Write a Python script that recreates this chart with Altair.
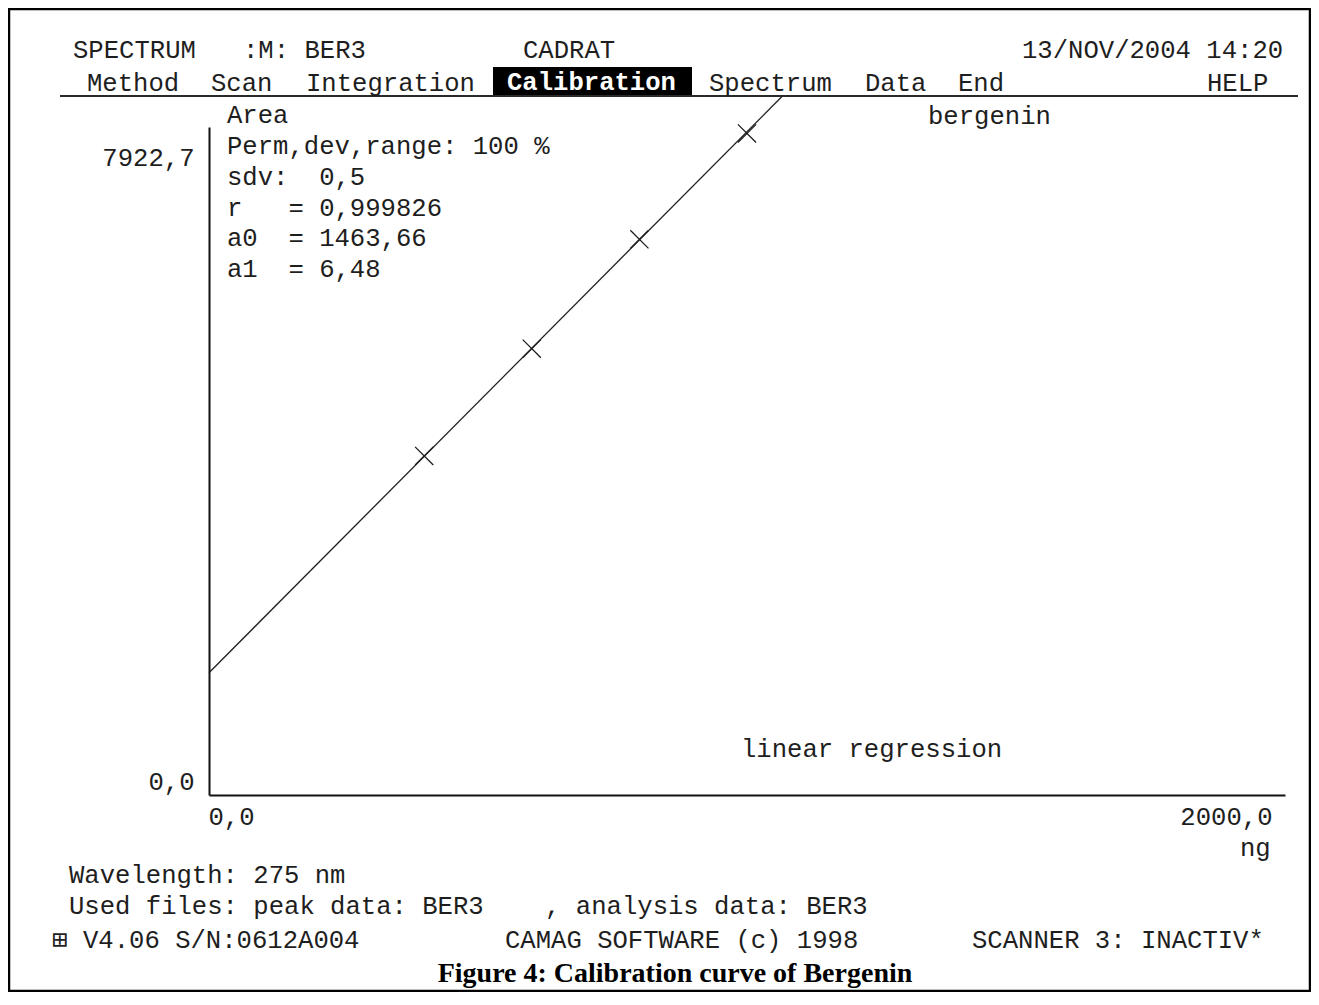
import altair as alt
import pandas as pd

# ---------------- data ----------------
std_ng = [400, 600, 800, 1000]
std_area = [4060, 5345, 6655, 7922.7]
line_ng = [0, 1065]
line_area = [1463.66, 8364.9]
x_ticks = [0, 2000]
y_ticks = [0, 7922.7]

header_top = ["SPECTRUM", ":M: BER3", "CADRAT", "13/NOV/2004 14:20"]
menu_items = ["Method", "Scan", "Integration", "Calibration", "Spectrum", "Data", "End", "HELP"]
y_title = "Area"
stats_lines = ["Perm,dev,range: 100 %", "sdv:  0,5", "r   = 0,999826", "a0  = 1463,66", "a1  = 6,48"]
compound = "bergenin"
fit_label = "linear regression"
x_unit = "ng"
footer_lines = ["Wavelength: 275 nm", "Used files: peak data: BER3    , analysis data: BER3"]
status_items = ["\u229e", "V4.06 S/N:0612A004", "CAMAG SOFTWARE (c) 1998", "SCANNER 3: INACTIV*"]
caption = "Figure 4: Calibration curve of Bergenin"

# ---------------- styling ----------------
MONO = "Liberation Mono, DejaVu Sans Mono, monospace"
FS = 25.6
INK = "#1e1e1e"
W, H = 1076, 668

points_df = pd.DataFrame({"ng": std_ng, "area": std_area})
line_df = pd.DataFrame({"ng": line_ng, "area": line_area})

x_scale = alt.Scale(domain=[0, 2000], nice=False, zero=False)
y_scale = alt.Scale(domain=[0, 8000], nice=False, zero=False)
lbl = "replace(format(datum.value, '.1f'), '.', ',')"

x_axis = alt.Axis(
    values=x_ticks, labelExpr=lbl, title=None, ticks=False, grid=False,
    domainColor="#111111", domainWidth=2, labelFont=MONO, labelFontSize=FS,
    labelColor=INK, labelPadding=9, labelBaseline="top", labelFlush=False,
    labelOverlap=False,
    labelAlign={"condition": {"test": "datum.value == 0", "value": "left"}, "value": "right"},
    labelOffset={"condition": {"test": "datum.value == 0", "value": -1}, "value": -13},
)
y_axis = alt.Axis(
    values=y_ticks, labelExpr=lbl, title=None, ticks=False, grid=False,
    domainColor="#111111", domainWidth=2, labelFont=MONO, labelFontSize=FS,
    labelColor=INK, labelPadding=15, labelBaseline="middle", labelFlush=False,
    labelOverlap=False,
    labelOffset={"condition": {"test": "datum.value == 0", "value": -14}, "value": 24},
)

fit = alt.Chart(line_df).mark_line(color=INK, strokeWidth=1.3, clip=False).encode(
    x=alt.X("ng:Q", scale=x_scale, axis=x_axis),
    y=alt.Y("area:Q", scale=y_scale, axis=y_axis),
)
marks = alt.Chart(points_df).mark_point(
    shape="M -1 -1 L 1 1 M -1 1 L 1 -1", size=330, filled=False,
    stroke=INK, strokeWidth=1.3, opacity=1,
).encode(x=alt.X("ng:Q", scale=x_scale), y=alt.Y("area:Q", scale=y_scale))


def txt(s, x, y, **kw):
    params = dict(font=MONO, fontSize=FS, color=INK, align="left", baseline="middle")
    params.update(kw)
    shown = s.replace(" ", "\u00a0") if params["font"] == MONO else s
    return alt.Chart(alt.Data(values=[{"t": shown}])).mark_text(**params).encode(
        x=alt.value(x), y=alt.value(y), text="t:N"
    )


def one():
    return alt.Chart(alt.Data(values=[{"k": 1}]))


layers = [fit, marks]

# outer frame
layers.append(one().mark_rect(fillOpacity=0, stroke="black", strokeWidth=2.5).encode(
    x=alt.value(-200), x2=alt.value(1101), y=alt.value(-118), y2=alt.value(864)))
# menu highlight + underline
layers.append(one().mark_rect(color="#000000").encode(
    x=alt.value(284), x2=alt.value(483), y=alt.value(-60), y2=alt.value(-31)))
layers.append(one().mark_rule(color="#2a2a2a", strokeWidth=2).encode(
    x=alt.value(-149), x2=alt.value(1089), y=alt.value(-31)))

for s, x in zip(header_top, [-136, 34, 314, 813]):
    layers.append(txt(s, x, -77))
for s, x in zip(menu_items, [-122, 2, 97, 298, 500, 656, 749, 998]):
    if s == "Calibration":
        layers.append(txt(s, x, -45, color="#ffffff", fontWeight="bold"))
    else:
        layers.append(txt(s, x, -44))

layers.append(txt(y_title, 18, -12))
for i, s in enumerate(stats_lines):
    layers.append(txt(s, 18, 19 + i * 30.8))
layers.append(txt(compound, 719, -11))
layers.append(txt(fit_label, 532, 622))
layers.append(txt(x_unit, 1031, 721))
for i, s in enumerate(footer_lines):
    layers.append(txt(s, -140, 748 + i * 31))
for s, x in zip(status_items, [-157, -126, 296, 763]):
    layers.append(txt(s, x, 813))
layers.append(txt(caption, 466, 847, font="Liberation Serif", fontSize=28,
                  fontWeight="bold", align="center", color="#000000"))

chart = alt.layer(*layers).properties(
    width=W, height=H,
    autosize=alt.AutoSizeParams(type="none"),
    padding={"left": 201, "top": 119, "right": 26, "bottom": 197},
    background="white",
).configure_view(stroke=None)

chart.save("out.html", embed_options={"renderer": "svg", "actions": False})
